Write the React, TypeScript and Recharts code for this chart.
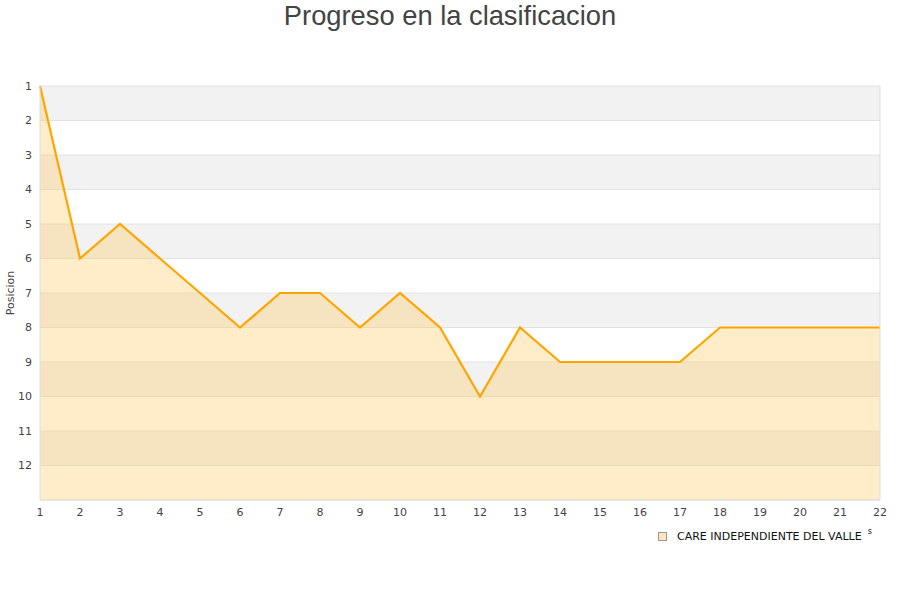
import React from 'react';
import { ComposedChart, Area, XAxis, YAxis, CartesianGrid, ReferenceLine } from 'recharts';

const jornadas = [1, 2, 3, 4, 5, 6, 7, 8, 9, 10, 11, 12, 13, 14, 15, 16, 17, 18, 19, 20, 21, 22];
const posiciones = [1, 6, 5, 6, 7, 8, 7, 7, 8, 7, 8, 10, 8, 9, 9, 9, 9, 8, 8, 8, 8, 8];
const yTicks = [1, 2, 3, 4, 5, 6, 7, 8, 9, 10, 11, 12];
const teamName = 'CARE INDEPENDIENTE DEL VALLE';
const title = 'Progreso en la clasificacion';
const yLabel = 'Posicion';

const data = jornadas.map((j, i) => ({ jornada: j, pos: posiciones[i] }));

const FONT = '"DejaVu Sans", sans-serif';

export default function App() {
  return (
    <div style={{ position: 'absolute', left: 0, top: 0, width: 900, height: 600, background: '#fff' }}>
      <div style={{ position: 'absolute', left: 0, top: 0, width: 900, textAlign: 'center', fontFamily: '"Liberation Sans", Arial, sans-serif', fontSize: 27.3, color: '#444', lineHeight: '32px' }}>
        {title}
      </div>
      <ComposedChart width={900} height={600} data={data} margin={{ top: 86, right: 20, left: 0, bottom: 70 }}>
        <CartesianGrid vertical={false} stroke="#e2e2e2" horizontalFill={['#f2f2f2', '#ffffff']} fillOpacity={1} />
        <XAxis
          dataKey="jornada"
          type="number"
          domain={[1, 22]}
          ticks={jornadas}
          interval={0}
          tickLine={false}
          axisLine={{ stroke: '#dcdcdc' }}
          height={30}
          tick={{ fill: '#444', fontSize: 11, fontFamily: FONT }}
        />
        <YAxis
          type="number"
          reversed
          domain={[1, 13]}
          ticks={yTicks}
          interval={0}
          tickLine={false}
          axisLine={{ stroke: '#dcdcdc' }}
          width={40}
          tick={{ fill: '#444', fontSize: 11, fontFamily: FONT }}
          label={(props: any) => {
            const vb = props.viewBox || { x: 0, y: 86, width: 40, height: 414 };
            const cx = 10;
            const cy = vb.y + vb.height / 2;
            return (
              <text x={cx} y={cy} transform={`rotate(-90 ${cx} ${cy})`} textAnchor="middle" dominantBaseline="central" fill="#444" fontSize={11} fontFamily={FONT}>
                {yLabel}
              </text>
            );
          }}
        />
        <Area
          type="linear"
          dataKey="pos"
          name={teamName}
          baseValue={13}
          stroke="#ffa500"
          strokeWidth={2.2}
          fill="#ffcc66"
          fillOpacity={0.35}
          dot={false}
          activeDot={false}
          isAnimationActive={false}
        />
        <ReferenceLine x={22} stroke="#dcdcdc" />
      </ComposedChart>
      <div style={{ position: 'absolute', left: 658, top: 530, display: 'flex', alignItems: 'center', fontFamily: FONT, fontSize: 11, color: '#111', whiteSpace: 'nowrap' }}>
        <span style={{ display: 'inline-block', width: 7, height: 7, background: '#ffe6b8', border: '1px solid #999', marginRight: 10 }} />
        <span>{teamName}</span>
        <span style={{ fontSize: 8, marginLeft: 6, position: 'relative', top: -5 }}>s</span>
      </div>
    </div>
  );
}
